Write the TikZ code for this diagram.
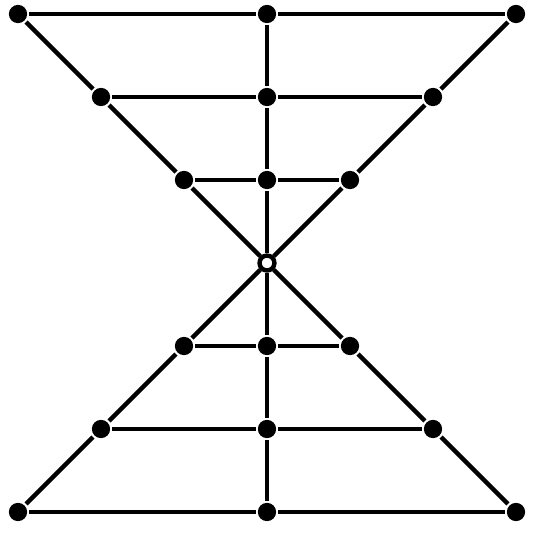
\documentclass[tikz,border=0pt]{standalone}
\begin{document}
\begin{tikzpicture}[line width=1.5pt,
  dot/.style={circle,fill=black,inner sep=0pt,minimum size=2.2mm},
  hole/.style={circle,draw=black,fill=white,inner sep=0pt,minimum size=1.8mm}]
\useasboundingbox (-3.217,-3.253) rectangle (3.205,3.169);
% rows of dots
\foreach \y/\x/\n in {3/3/a,2/2/b,1/1/c,-1/1/d,-2/2/e,-3/3/f} {
  \node[dot] (l\n) at (-\x,\y) {};
  \node[dot] (m\n) at (0,\y) {};
  \node[dot] (r\n) at (\x,\y) {};
}
\node[hole] (o) at (0,0) {};
% horizontal lines
\foreach \n in {a,b,c,d,e,f}
  \draw (l\n) -- (m\n) -- (r\n);
% diagonals and middle line
\draw (la) -- (lb) -- (lc) -- (o) -- (rd) -- (re) -- (rf);
\draw (ra) -- (rb) -- (rc) -- (o) -- (ld) -- (le) -- (lf);
\draw (ma) -- (mb) -- (mc) -- (o) -- (md) -- (me) -- (mf);
\end{tikzpicture}
\end{document}
